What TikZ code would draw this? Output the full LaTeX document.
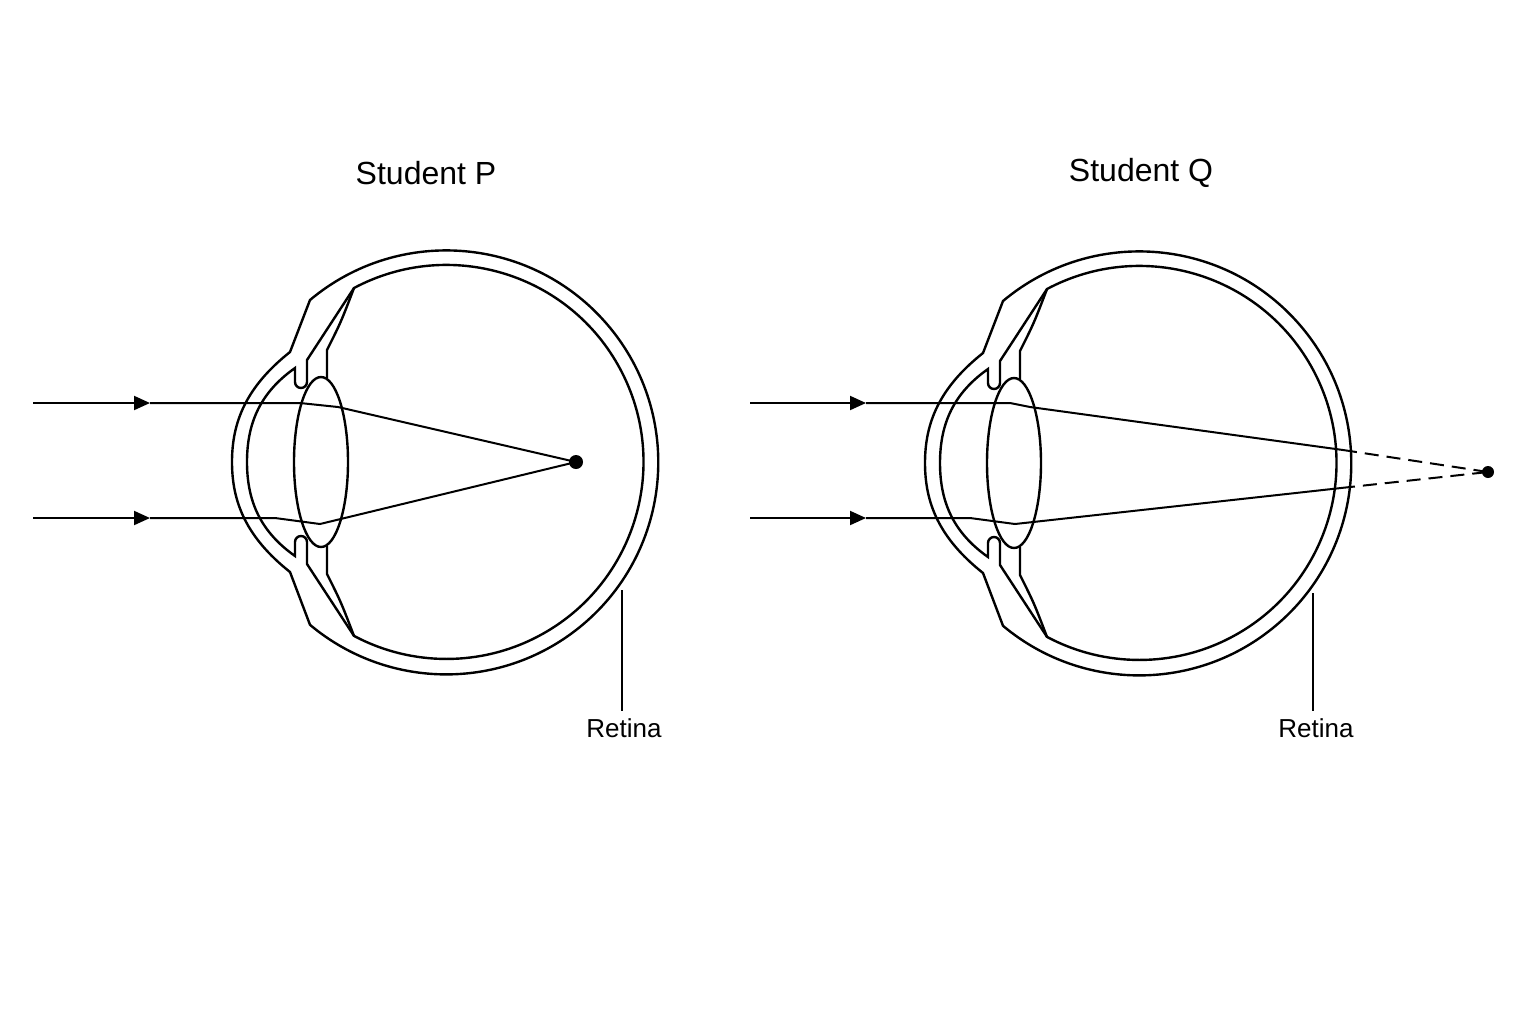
\documentclass[tikz,border=0pt]{standalone}
\usepackage{fontspec}
\setmainfont{Liberation Sans}
\usetikzlibrary{arrows.meta}
\begin{document}
\begin{tikzpicture}[x=0.5pt,y=-0.5pt,line width=1.2pt,
  eye/.style={line width=1.2pt},
  ray/.style={line width=1pt},
  arr/.style={line width=1pt,-{Triangle[length=8pt,width=7pt]}},
  lbl/.style={font=\fontsize{13}{15}\selectfont},
  ttl/.style={font=\fontsize{16}{19}\selectfont}]
\useasboundingbox (0,0) rectangle (1536,1024);
\fill[white] (0,0) rectangle (1536,1024);
\newcommand{\myeye}{%
  \draw[eye] (-136,-162) arc[start angle=-130,end angle=130,radius=212] -- (-156,110)
     .. controls (-200,75) and (-214,40) .. (-214,0) .. controls (-214,-40) and (-200,-75) .. (-156,-110) -- cycle;
  \draw[eye] (-92,-174) arc[start angle=-118,end angle=118,radius=197] -- (-139,102) -- (-139,80)
     arc[start angle=0,end angle=-180,radius=6] -- (-151,94)
     .. controls (-185,70) and (-199,40) .. (-199,0) .. controls (-199,-40) and (-185,-70) .. (-151,-94)
     -- (-151,-80) arc[start angle=180,end angle=0,radius=6] -- (-139,-102) -- cycle;
  \draw[eye] (-92,-174) .. controls (-105,-140) .. (-119,-112) -- (-119,-84);
  \draw[eye] (-92,174) .. controls (-105,140) .. (-119,112) -- (-119,84);
  \draw[eye] (-125,0) ellipse[x radius=27,y radius=85];
}
% left eye
\begin{scope}[shift={(446,462)}] \myeye \end{scope}
\begin{scope}[shift={(1139,463)}] \myeye \end{scope}
\node[ttl] (tp) at (426,173) {Student P};
\node[ttl] (tq) at (1141,173) {Student Q};
% left rays
\coordinate (a1) at (33,403); \coordinate (a2) at (33,518);
\coordinate (m1) at (150,403); \coordinate (m2) at (150,518);
\coordinate (b1) at (300,403); \coordinate (b2) at (275,518);
\coordinate (c1) at (338,407); \coordinate (c2) at (320,524);
\coordinate (f) at (576,462);
\draw[arr] (a1) -- (m1); \draw[arr] (a2) -- (m2);
\draw[ray] (m1) -- (b1) -- (c1) -- (f);
\draw[ray] (m2) -- (b2) -- (c2) -- (f);
\fill (f) circle[radius=7];
% right rays
\coordinate (d1) at (750,403); \coordinate (d2) at (750,518);
\coordinate (n1) at (866,403); \coordinate (n2) at (866,518);
\coordinate (e1) at (1010,403); \coordinate (e2) at (970,518);
\coordinate (g1) at (1030,407); \coordinate (g2) at (1015,524);
\coordinate (h1) at (1343,450); \coordinate (h2) at (1341,488);
\coordinate (q) at (1488,472);
\draw[arr] (d1) -- (n1); \draw[arr] (d2) -- (n2);
\draw[ray] (n1) -- (e1) -- (g1) -- (h1);
\draw[ray] (n2) -- (e2) -- (g2) -- (h2);
\draw[ray,dash pattern=on 7pt off 4pt] (h1) -- (q);
\draw[ray,dash pattern=on 7pt off 4pt] (h2) -- (q);
\fill (q) circle[radius=6];
% retina labels
\node[lbl] (r1) at (624,728) {Retina};
\node[lbl] (r2) at (1316,728) {Retina};
\coordinate (p1) at (622,590); \coordinate (p2) at (1313,593);
\draw[ray] (p1) -- (r1.north -| p1);
\draw[ray] (p2) -- (r2.north -| p2);
\end{tikzpicture}
\end{document}
